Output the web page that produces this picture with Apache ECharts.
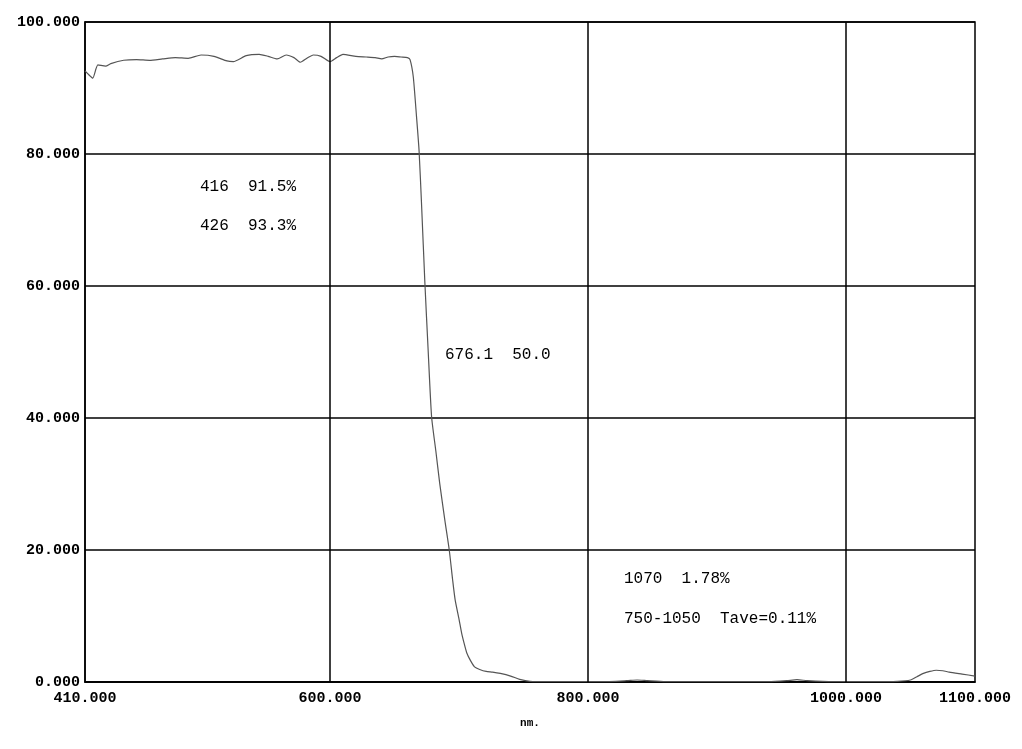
<!DOCTYPE html>
<html>
<head>
<meta charset="utf-8">
<script src="https://cdn.jsdelivr.net/npm/echarts@6/dist/echarts.min.js"></script>
<style>html,body{margin:0;padding:0;background:#fff}#c{width:1022px;height:749px}</style>
</head>
<body>
<div id="c"></div>
<script>
const wavelengths = [410,413,416,420,426,430,440,450,460,470,480,490,500,510,520,525,535,545,552,559,566,572,577,582,587,593,600,605,610,620,628,635,640,645,650,655,660,662,664.5,667,669,671,673.5,676.1,678.7,682,685,689,692.4,695,697,700,702,704,706,709,712,716,721,726,732,740,747,755,770,790,810,830,838,846,860,900,940,954,962,970,990,1020,1040,1050,1055,1060,1065,1070,1075,1080,1090,1100];
const transmittance = [92.6,92.0,91.5,93.5,93.3,93.7,94.2,94.3,94.2,94.4,94.6,94.5,95.0,94.8,94.1,94.0,94.9,95.1,94.8,94.4,95.0,94.6,93.9,94.5,95.0,94.8,94.0,94.6,95.1,94.8,94.7,94.6,94.4,94.7,94.8,94.7,94.6,94.3,91.7,85.7,80.5,72,60.5,50,40.2,35,30.1,24.5,20,15.5,12.4,9.5,7.4,5.8,4.4,3.2,2.3,1.9,1.6,1.5,1.3,0.9,0.4,0.1,0.05,0.05,0.05,0.2,0.3,0.2,0.05,0.05,0.05,0.2,0.35,0.2,0.05,0.05,0.1,0.3,0.8,1.3,1.6,1.78,1.7,1.5,1.2,0.9];
const xTickValues = [410,600,800,1000,1100];
const xGridValues = [600,800,1000];
const annotations = [
  {text:'416  91.5%', left:200, top:179},
  {text:'426  93.3%', left:200, top:218},
  {text:'676.1  50.0', left:445, top:347},
  {text:'1070  1.78%', left:624, top:571},
  {text:'750-1050  Tave=0.11%', left:624, top:611}
];

const chart = echarts.init(document.getElementById('c'));
const labelFont = {fontFamily:'Liberation Mono', fontSize:15, fontWeight:'bold', color:'#000'};
chart.setOption({
  animation:false,
  backgroundColor:'#fff',
  grid:{left:85,right:47,top:22,bottom:67,show:true,borderColor:'#000',borderWidth:1.5},
  xAxis:{
    type:'value', min:410, max:1100,
    name:'nm.', nameLocation:'middle', nameGap:36,
    nameTextStyle:{fontFamily:'Liberation Mono',fontSize:11,fontWeight:'bold',color:'#000'},
    axisLine:{show:true,lineStyle:{color:'#000',width:1.5}},
    axisTick:{show:false},
    splitLine:{show:false},
    axisLabel:Object.assign({customValues:xTickValues, margin:9, formatter:v=>v.toFixed(3), showMinLabel:true, showMaxLabel:true}, labelFont)
  },
  yAxis:{
    type:'value', min:0, max:100, interval:20,
    axisLine:{show:true,lineStyle:{color:'#000',width:1.5}},
    axisTick:{show:false},
    splitLine:{show:true,lineStyle:{color:'#000',width:1.5}},
    axisLabel:Object.assign({margin:5, formatter:v=>v.toFixed(3)}, labelFont)
  },
  series:[{
    type:'line',
    data:wavelengths.map((w,i)=>[w,transmittance[i]]),
    showSymbol:false,
    smooth:0.2,
    lineStyle:{color:'#555',width:1.2},
    markLine:{
      silent:true, symbol:'none', label:{show:false},
      lineStyle:{color:'#000',width:1.5,type:'solid'},
      data:xGridValues.map(v=>({xAxis:v}))
    },
    z:3
  }],
  graphic:annotations.map(a=>({
    type:'text', left:a.left, top:a.top,
    style:{text:a.text, fontFamily:'Liberation Mono', fontSize:16, fill:'#000'}
  }))
});
</script>
</body>
</html>
